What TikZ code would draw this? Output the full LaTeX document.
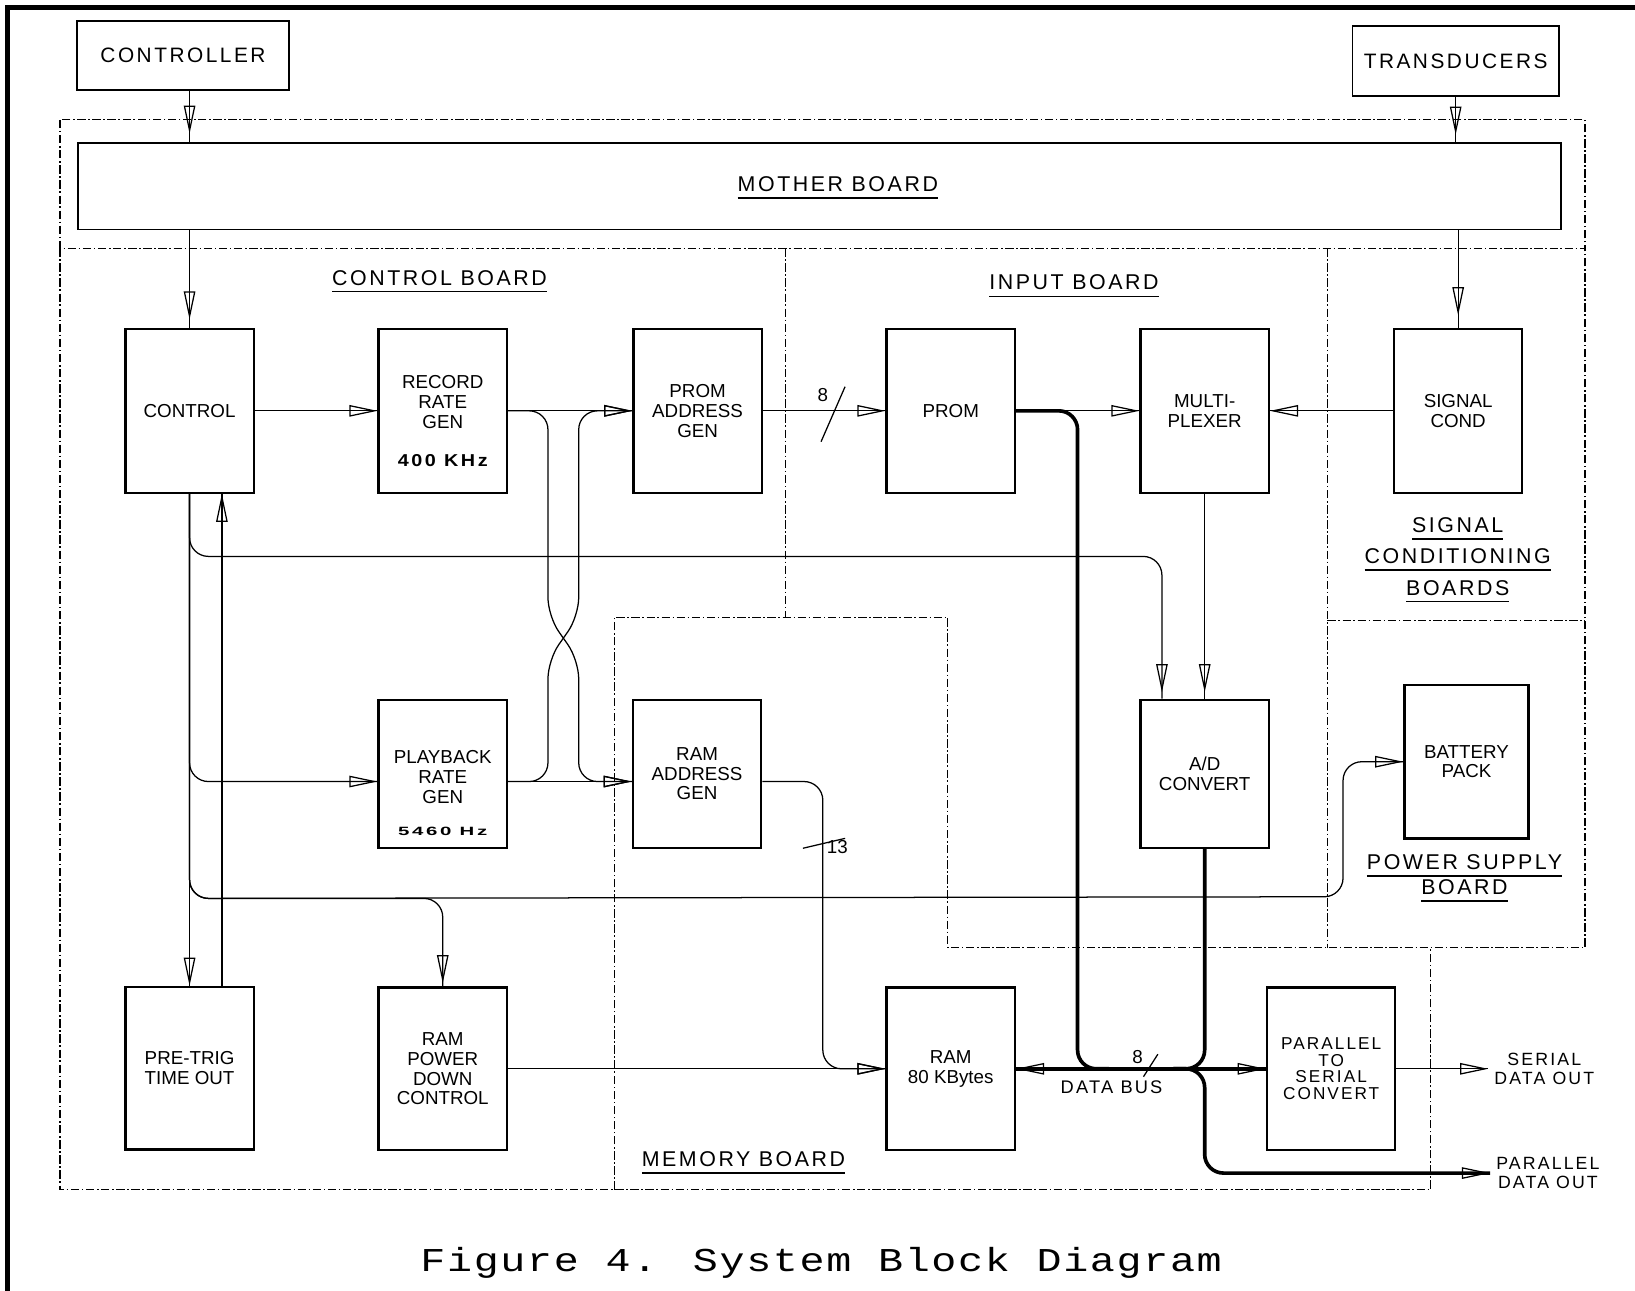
\documentclass[tikz,border=0pt]{standalone}
\usepackage{fontspec}
\setmainfont{Liberation Sans}
\newfontfamily\brdfont{Liberation Sans}[LetterSpace=12]
\newfontfamily\frqfont{Liberation Sans}[LetterSpace=15, FakeStretch=1.15]
\newfontfamily\frqwide{Liberation Sans}[LetterSpace=22, FakeStretch=1.7]
\newfontfamily\capfont{Liberation Mono}[LetterSpace=5, FakeStretch=1.25]
\usetikzlibrary{arrows.meta, decorations.markings}
\newcommand{\brdul}[1]{\leavevmode\setbox0=\hbox{#1}\rlap{\rule[-7pt]{\wd0}{1.6pt}}\box0}

\begin{document}
\begin{tikzpicture}[x=1pt, y=-1pt,
    blk/.style={draw, line width=2.2pt, minimum width=123pt, minimum height=157pt,
      inner sep=0pt, align=center, font=\fontsize{18}{19}\selectfont},
    io/.style={draw, line width=1.6pt, inner sep=0pt, font=\brdfont\fontsize{20}{24}\selectfont},
    txt/.style={inner sep=0pt, align=center, font=\fontsize{18}{19}\selectfont},
    lbl/.style={inner sep=0pt, align=center, font=\brdfont\fontsize{20.5}{30}\selectfont},
    outl/.style={inner sep=0pt, outer sep=6pt, align=center, font=\brdfont\fontsize{17}{18.5}\selectfont},
    brd/.style={line width=1.1pt, dash pattern=on 8pt off 2.5pt on 1.5pt off 2.5pt},
    wire/.style={line width=1.2pt, rounded corners=18pt},
    bus/.style={line width=3.5pt, rounded corners=18pt},
    arr/.style={decoration={markings, mark=at position #1 with
      {\arrow{Triangle[open, length=27pt, width=11pt, line width=1.2pt]}}},
      postaction={decorate}},
    arr/.default=1]
  \useasboundingbox (0,0) rectangle (1568,1238);
  \fill[white] (0,0) rectangle (1568,1238);
  \draw[line width=5pt] (7.5,1238) -- (7.5,7.5) -- (1568,7.5);

  % board outlines
  \draw[brd] (57.5,115) rectangle (1520,238);
  \draw[brd] (57.5,238) -- (57.5,1141) -- (1372,1141) -- (1372,909);
  \draw[brd] (753,238) -- (753,592);
  \draw[brd] (589,1141) -- (589,592) -- (909,592) -- (909,909) -- (1520,909) -- (1520,238);
  \draw[brd] (1273,238) -- (1273,909);
  \draw[brd] (1273,595) -- (1520,595);

  % outside world and mother board
  \node[io, minimum width=203pt, minimum height=66pt] (ctr) at (175.5,53) {CONTROLLER};
  \node[io, minimum width=198pt, minimum height=67pt] (trd) at (1396,58.5) {TRANSDUCERS};
  \node[draw, line width=1.6pt, minimum width=1422pt, minimum height=83pt] (mb) at (786,178.5) {};
  \node[lbl, anchor=base] (mbl) at (803.5,184) {\brdul{MOTHER BOARD}};

  % control board
  \node[lbl, anchor=base] (cbl) at (421.5,273.5) {\brdul{CONTROL BOARD}};
  \node[blk] (ctl) at (181.8,394) {CONTROL};
  \node[blk] (rec) at (424.6,394) {};
  \node[txt] (rect) at (424.6,385.7) {RECORD\\RATE\\GEN};
  \node[txt, font=\frqfont\bfseries\fontsize{16.5}{17}\selectfont] (recf) at (424.6,442) {400 KHz};
  \node[blk] (pag) at (669,394) {PROM\\ADDRESS\\GEN};
  \node[blk, minimum height=142pt] (pbk) at (424.6,742) {};
  \node[txt] (pbkt) at (424.6,745) {PLAYBACK\\RATE\\GEN};
  \node[txt, font=\frqwide\bfseries\fontsize{11.5}{12}\selectfont] (pbkf) at (424.6,797) {5460 Hz};
  \node[blk, minimum height=156pt] (ptg) at (181.8,1024.5) {PRE-TRIG\\TIME OUT};
  \node[blk, minimum height=156pt] (rpd) at (424.6,1025) {RAM\\POWER\\DOWN\\CONTROL};

  % memory board
  \node[lbl, anchor=base] (mml) at (713,1119) {\brdul{MEMORY BOARD}};
  \node[blk, minimum height=142pt] (rag) at (668.5,742) {RAM\\ADDRESS\\GEN};
  \node[blk, minimum height=156pt] (ram) at (911.8,1025) {RAM\\80 KBytes};
  \node[blk, minimum height=156pt, font=\brdfont\fontsize{16.5}{16}\selectfont] (pts) at (1276.6,1025)
    {PARALLEL\\TO\\SERIAL\\CONVERT};

  % input board
  \node[lbl, anchor=base] (ibl) at (1030,278) {\brdul{INPUT BOARD}};
  \node[blk] (prm) at (911.8,394) {PROM};
  \node[blk] (mux) at (1155.3,394) {MULTI-\\PLEXER};
  \node[blk, minimum height=142pt] (adc) at (1155.3,742) {A/D\\CONVERT};

  % signal conditioning and power supply
  \node[blk] (sgc) at (1398.4,394) {SIGNAL\\COND};
  \node[lbl] (scl) at (1398,537) {\brdul{SIGNAL}\\\brdul{CONDITIONING}\\\brdul{BOARDS}};
  \node[blk, minimum width=119pt, minimum height=147pt] (bat) at (1406.4,730.5) {BATTERY\\PACK};
  \node[lbl, font=\brdfont\fontsize{20.5}{24}\selectfont] (psl) at (1404.5,842.5)
    {\brdul{POWER SUPPLY}\\\brdul{BOARD}};

  % outputs and bus labels
  \node[outl] (sdo) at (1481,1025) {SERIAL\\DATA OUT};
  \node[outl] (pdo) at (1484.5,1125) {PARALLEL\\DATA OUT};
  \node[txt, font=\brdfont\fontsize{17.5}{19}\selectfont] (dbl) at (1066,1043) {DATA BUS};
  \node[txt] (n8b) at (1091,1014) {8};
  \node[txt] (n8a) at (789,379) {8};
  \node[txt] (n13) at (803,812) {13};

  % mother board links
  \draw[wire, arr=-8pt] (ctl.north |- ctr.south) -- (ctl.north |- mb.north);
  \draw[wire, arr=-7pt] (trd.south) -- (trd.south |- mb.north);
  \draw[wire, arr=-8pt] (ctl.north |- mb.south) -- (ctl.north);
  \draw[wire, arr=-12pt] (sgc.north |- mb.south) -- (sgc.north);

  % rate generators, crossed
  \draw[wire, arr] (ctl.east) -- (rec.west);
  \draw[wire, arr] (rec.east) -- (pag.west);
  \draw[wire, arr] (rec.east) -- (525.5,394) -- (525.5,591) -- (555,633) -- (555,749.5)
    -- ([yshift=-7.5pt]rag.west);
  \draw[wire, arr] ([yshift=-7.5pt]pbk.east) -- ([yshift=-7.5pt]rag.west);
  \draw[wire, arr] ([yshift=-7.5pt]pbk.east) -- (525.5,749.5) -- (525.5,633) -- (555,591)
    -- (555,394) -- (pag.west);

  % control fan-out
  \draw[wire, arr] (ctl.south) -- (ptg.north);
  \draw[wire, arr] ([xshift=31pt]ptg.north) -- ([xshift=31pt]ctl.south);
  \draw[wire, arr] (ctl.south) |- ([yshift=-7.5pt]pbk.west);
  \draw[wire, arr=-6pt] (ctl.south) -- ++(0,60) -| ([xshift=-41pt]adc.north);
  \draw[wire, arr] (ctl.south) -- ++(0,388) -- (1288,860) |- (bat.west);
  \draw[wire, arr=-3pt] (ctl.south) -- ++(0,388) -| (rpd.north);

  % input side
  \draw[wire, arr] (pag.east) -- (prm.west);
  \draw[wire] (787.4,423.6) -- (810.4,370.9);
  \draw[wire, arr] (prm.east) -- (mux.west);
  \draw[wire, arr] (sgc.west) -- (mux.east);
  \draw[wire, arr=-6pt] (mux.south) -- (adc.north);

  % memory side
  \draw[wire, arr] ([yshift=-7.5pt]rag.east) -- ++(58,0) |- (ram.west);
  \draw[wire] (770,813.5) -- (810.5,804);
  \draw[wire, arr] (rpd.east) -- (ram.west);

  % data bus
  \coordinate (dbus) at (adc.south |- ram.east);
  \draw[bus] (prm.east) -- ++(59,0) -- ++(0,631) -- ++(30,0);
  \draw[bus] (adc.south) -- (dbus) -- ++(-30,0);
  \draw[bus, arr] (dbus) -- (ram.east);
  \draw[bus, arr] (dbus) -- (pts.west);
  \draw[bus, arr] ([xshift=-30pt]dbus) -- (dbus) |- (pdo.west);
  \draw[wire] (1096.6,1032.6) -- (1110.4,1011);
  \draw[wire, arr] (pts.east) -- (sdo.west);

  \node[anchor=base, inner sep=0pt, font=\capfont\fontsize{32}{32}\selectfont] (cap)
    at (787.5,1219.6) {Figure 4. System Block Diagram};
\end{tikzpicture}
\end{document}
